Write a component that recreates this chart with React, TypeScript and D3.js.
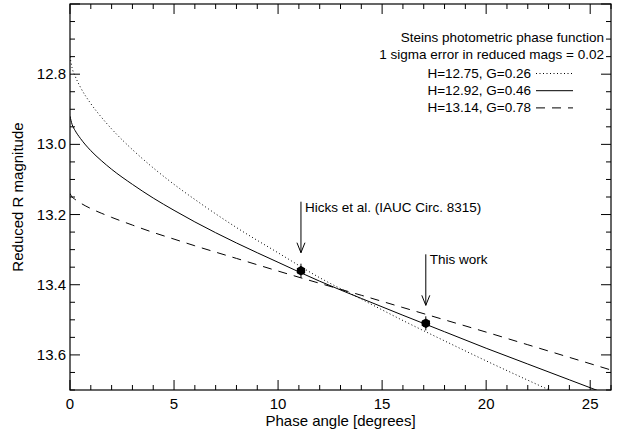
import React from "react";
import * as d3 from "d3";

// phase angle samples [deg] and reduced R magnitude
const phaseAngles = [0, 0.1, 0.25, 0.5, 1, 1.5, 2, 3, 4, 5, 6, 8, 10, 12, 14, 16, 18, 20, 22, 24, 26];
const magG026 = [12.75, 12.782, 12.806, 12.837, 12.884, 12.922, 12.956, 13.015, 13.067, 13.114, 13.157, 13.237, 13.309, 13.38, 13.441, 13.502, 13.56, 13.617, 13.672, 13.726, 13.78];
const magG046 = [12.92, 12.943, 12.961, 12.983, 13.018, 13.046, 13.071, 13.114, 13.153, 13.188, 13.221, 13.281, 13.336, 13.39, 13.439, 13.487, 13.534, 13.581, 13.626, 13.671, 13.716];
const magG078 = [13.14, 13.15, 13.157, 13.167, 13.183, 13.196, 13.208, 13.23, 13.251, 13.27, 13.289, 13.325, 13.361, 13.396, 13.43, 13.465, 13.5, 13.535, 13.571, 13.607, 13.643];

const seriesLabels = ["H=12.75, G=0.26", "H=12.92, G=0.46", "H=13.14, G=0.78"];
const seriesDash = ["1,2.5", "none", "9,7"];

// observed points
const obsAngles = [11.1, 17.1];
const obsMags = [13.36, 13.51];
const obsLabels = ["Hicks et al. (IAUC Circ. 8315)", "This work"];
const obsError = 0.02;

const titleLines = ["Steins photometric phase function", "1 sigma error in reduced mags = 0.02"];

const W = 627;
const H = 432;
const margin = { top: 4, right: 16, bottom: 42, left: 70 };
const font = "'Liberation Sans', Arial, Helvetica, sans-serif";

export default function App() {
  const x = d3.scaleLinear().domain([0, 26]).range([margin.left, W - margin.right]);
  const y = d3.scaleLinear().domain([12.6, 13.7]).range([margin.top, H - margin.bottom]);
  const [x0, x1] = x.range();
  const [y0, y1] = y.range();

  const series = [magG026, magG046, magG078];
  const line = d3
    .line<number>()
    .x((_, i) => x(phaseAngles[i]))
    .y((d) => y(d))
    .curve(d3.curveMonotoneX);

  const xMajor = x.ticks(5);
  const xMinor = d3.range(0, 27, 1);
  const yMajor = y.ticks(5);
  const yMinor = d3.range(12.6, 13.7001, 0.05);
  const fmt = d3.format(".1f");

  const star = d3.symbol(d3.symbolAsterisk, 60)();

  return (
    <svg width={W} height={H} style={{ position: "absolute", left: 0, top: 0, background: "#fff" }} fontFamily={font}>
      <defs>
        <clipPath id="plot">
          <rect x={x0} y={y0} width={x1 - x0} height={y1 - y0} />
        </clipPath>
      </defs>

      {/* curves */}
      <g clipPath="url(#plot)" fill="none" stroke="#000" strokeWidth={1}>
        {series.map((s, i) => (
          <path key={i} d={line(s) || ""} strokeDasharray={seriesDash[i]} />
        ))}
      </g>

      {/* observations */}
      {obsAngles.map((a, i) => {
        const px = x(a);
        const py = y(obsMags[i]);
        const tip = py - 18;
        const top = tip - 51;
        return (
          <g key={i}>
            <line x1={px} x2={px} y1={y(obsMags[i] - obsError)} y2={y(obsMags[i] + obsError)} stroke="#000" strokeWidth={1} />
            <circle cx={px} cy={py} r={4.3} fill="#000" />
            <path d={star} transform={`translate(${px},${py})`} fill="none" stroke="#000" strokeWidth={1.5} />
            <line x1={px} x2={px} y1={top} y2={tip} stroke="#000" strokeWidth={1} />
            <path d={`M${px - 4},${tip - 10}L${px},${tip}L${px + 4},${tip - 10}`} fill="none" stroke="#000" strokeWidth={1} />
            <text x={px + 4} y={top + 10} fontSize={13.5}>
              {obsLabels[i]}
            </text>
          </g>
        );
      })}

      {/* frame */}
      <rect x={x0} y={y0} width={x1 - x0} height={y1 - y0} fill="none" stroke="#000" strokeWidth={1.2} />

      {/* x ticks bottom/top */}
      {xMinor.map((t) => {
        const len = t % 5 === 0 ? 10 : 5;
        return (
          <g key={"x" + t} stroke="#000" strokeWidth={1}>
            <line x1={x(t)} x2={x(t)} y1={y1} y2={y1 - len} />
            <line x1={x(t)} x2={x(t)} y1={y0} y2={y0 + len} />
          </g>
        );
      })}
      {xMajor.map((t) => (
        <text key={"xl" + t} x={x(t)} y={y1 + 19} fontSize={15} textAnchor="middle">
          {t}
        </text>
      ))}

      {/* y ticks left/right */}
      {yMinor.map((t, i) => {
        const len = i % 4 === 0 ? 10 : 5;
        return (
          <g key={"y" + i} stroke="#000" strokeWidth={1}>
            <line x1={x0} x2={x0 + len} y1={y(t)} y2={y(t)} />
            <line x1={x1} x2={x1 - len} y1={y(t)} y2={y(t)} />
          </g>
        );
      })}
      {yMajor
        .filter((t) => t > 12.65)
        .map((t) => (
          <text key={"yl" + t} x={x0 - 4} y={y(t) + 5} fontSize={15} textAnchor="end">
            {fmt(t)}
          </text>
        ))}

      {/* axis titles */}
      <text x={(x0 + x1) / 2} y={H - 6} fontSize={15} textAnchor="middle">
        Phase angle [degrees]
      </text>
      <text transform={`translate(23,${(y0 + y1) / 2}) rotate(-90)`} fontSize={15} textAnchor="middle">
        Reduced R magnitude
      </text>

      {/* legend */}
      {titleLines.map((t, i) => (
        <text key={"t" + i} x={604} y={42 + i * 16.5} fontSize={13.5} textAnchor="end">
          {t}
        </text>
      ))}
      {seriesLabels.map((s, i) => {
        const by = 78 + i * 17.2;
        return (
          <g key={"l" + i}>
            <text x={531} y={by} fontSize={13.5} textAnchor="end">
              {s}
            </text>
            <line x1={536} x2={573} y1={by - 4.5} y2={by - 4.5} stroke="#000" strokeWidth={1} strokeDasharray={seriesDash[i]} />
          </g>
        );
      })}
    </svg>
  );
}
